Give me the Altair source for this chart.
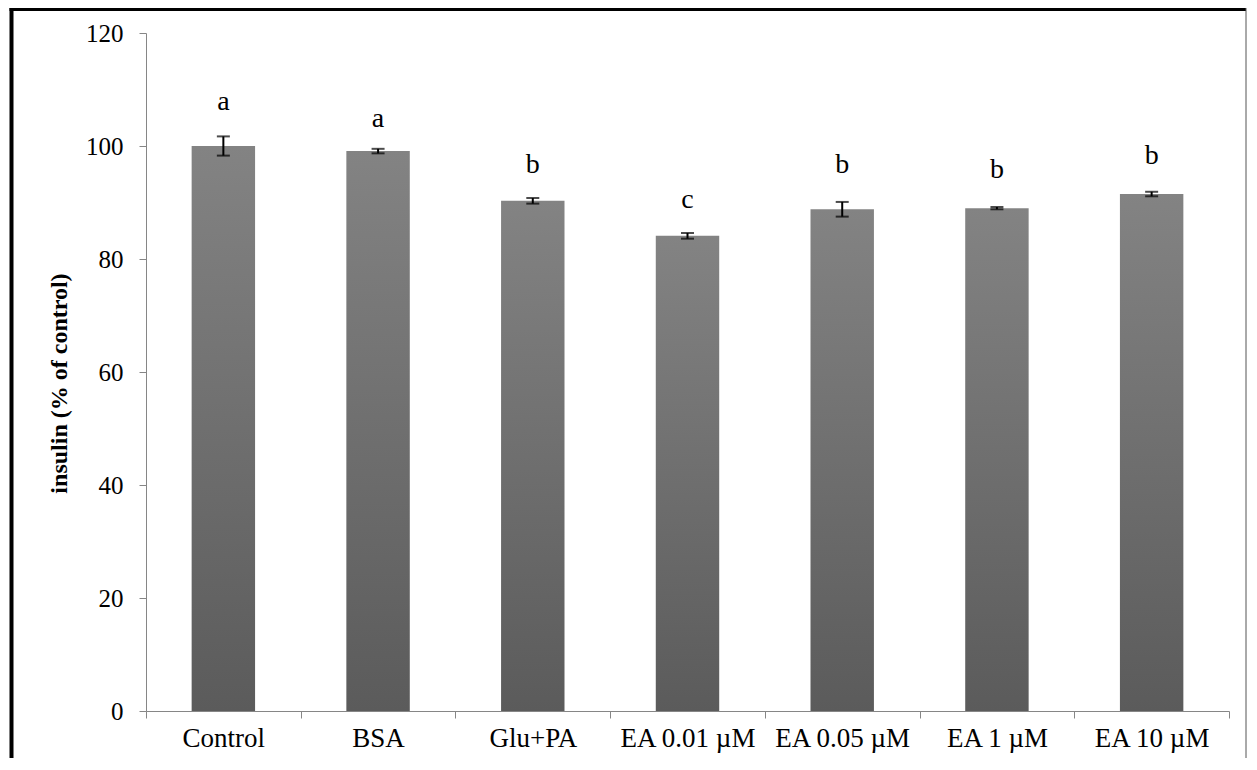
import altair as alt
import pandas as pd

categories = ["Control", "BSA", "Glu+PA", "EA 0.01 µM", "EA 0.05 µM", "EA 1 µM", "EA 10 µM"]
values = [100.0, 99.1, 90.3, 84.1, 88.8, 89.0, 91.5]
errors = [1.7, 0.4, 0.5, 0.5, 1.3, 0.2, 0.4]
letters = ["a", "a", "b", "c", "b", "b", "b"]
letter_pos = [106.4, 103.4, 95.2, 89.0, 95.2, 94.3, 96.8]
y_ticks = [0, 20, 40, 60, 80, 100, 120]

df = pd.DataFrame({"cat": categories, "value": values, "err": errors,
                   "letter": letters, "lpos": letter_pos})
df["lo"] = df["value"] - df["err"]
df["hi"] = df["value"] + df["err"]

FONT = "Liberation Serif"
AXIS_GRAY = "#868686"

x = alt.X("cat:N", sort=categories,
          scale=alt.Scale(paddingInner=0, paddingOuter=0),
          axis=alt.Axis(title=None, labelAngle=0, tickBand="extent",
                        domainColor=AXIS_GRAY, tickColor=AXIS_GRAY, tickSize=7,
                        labelPadding=7, labelFont=FONT, labelFontSize=27,
                        labelColor="black"))
yscale = alt.Scale(domain=[0, 120], nice=False)

base = alt.Chart(df)

bars = base.mark_bar(
    width=alt.RelativeBandSize(0.41),
    color=alt.Gradient(gradient="linear",
                       stops=[alt.GradientStop(color="#838383", offset=0),
                              alt.GradientStop(color="#5b5b5b", offset=1)],
                       x1=0, x2=0, y1=0, y2=1)
).encode(
    x=x,
    y=alt.Y("value:Q", scale=yscale,
            axis=alt.Axis(values=y_ticks, grid=False, domainColor=AXIS_GRAY,
                          tickColor=AXIS_GRAY, tickSize=7, labelPadding=16,
                          labelFont=FONT, labelFontSize=25, labelColor="black",
                          title="insulin (% of control)", titleFont=FONT,
                          titleFontSize=24, titleFontWeight="bold",
                          titleColor="black", titleAngle=270, titleX=-80,
                          titleY=350, titleAlign="center",
                          titleBaseline="alphabetic"))
)

err_line = base.mark_rule(color="black", strokeWidth=2).encode(
    x=alt.X("cat:N", sort=categories), y=alt.Y("lo:Q", scale=yscale), y2="hi:Q")
cap_lo = base.mark_tick(color="black", size=13, thickness=2, orient="horizontal").encode(
    x=alt.X("cat:N", sort=categories), y=alt.Y("lo:Q", scale=yscale))
cap_hi = base.mark_tick(color="black", size=13, thickness=2, orient="horizontal").encode(
    x=alt.X("cat:N", sort=categories), y=alt.Y("hi:Q", scale=yscale))

labels = base.mark_text(font=FONT, fontSize=28, color="black",
                        baseline="alphabetic", align="center").encode(
    x=alt.X("cat:N", sort=categories), y=alt.Y("lpos:Q", scale=yscale),
    text="letter:N")

frame_df = pd.DataFrame({"k": [0]})
left_border = alt.Chart(frame_df).mark_rule(color="black", strokeWidth=4).encode(
    x=alt.value(-134.5), y=alt.value(-25), y2=alt.value(725))
top_border = alt.Chart(frame_df).mark_rule(color="black", strokeWidth=3).encode(
    x=alt.value(-136.5), x2=alt.value(1100), y=alt.value(-23.5))
right_border = alt.Chart(frame_df).mark_rule(color="#555555", strokeWidth=1).encode(
    x=alt.value(1100), y=alt.value(-25), y2=alt.value(725))

chart = alt.layer(bars, err_line, cap_lo, cap_hi, labels,
                  left_border, top_border, right_border).properties(
    width=1083, height=678,
    padding={"left": 138, "top": 25, "right": 18, "bottom": 47},
    autosize=alt.AutoSizeParams(type="none"),
    background="white"
).configure_view(stroke=None)

chart.save("out.html", embed_options={"renderer": "svg", "actions": False})
